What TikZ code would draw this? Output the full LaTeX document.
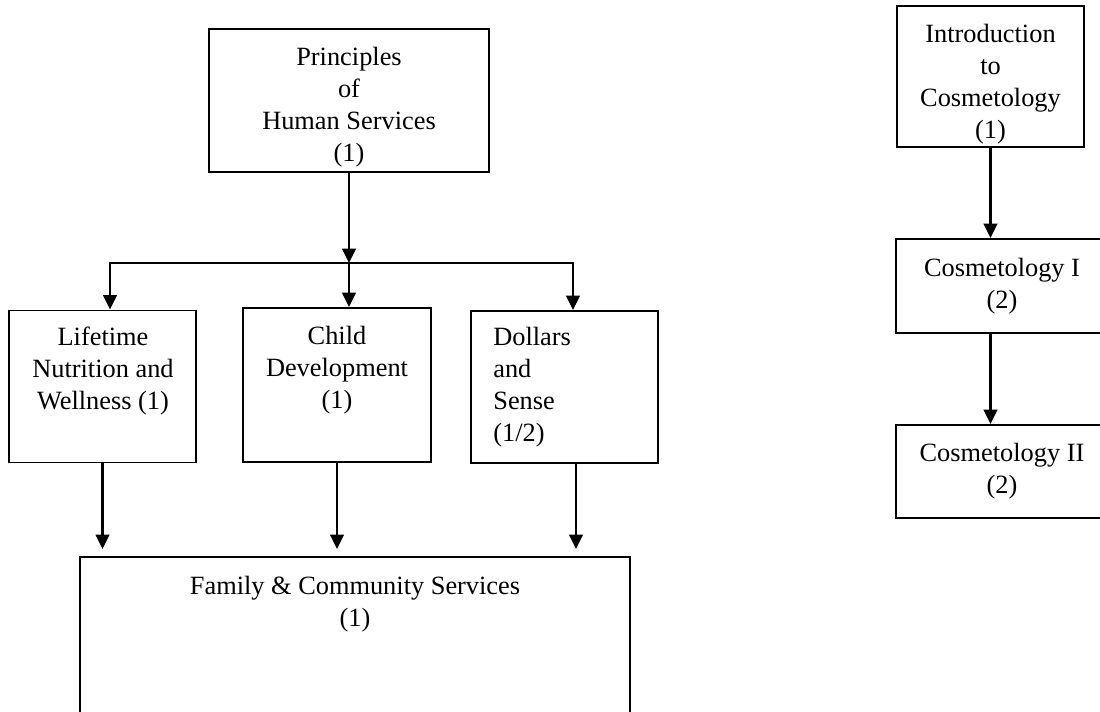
\documentclass[tikz,border=0pt]{standalone}
\usepackage{fontspec}
\setmainfont{Liberation Serif}
\usepackage{tikz}
\usetikzlibrary{shapes,arrows.meta,positioning}

\begin{document}
\begin{tikzpicture}[
    box/.style={rectangle, draw, line width=1.1pt, minimum width=3.74cm, minimum height=3.04cm, align=center, font=\fontsize{15}{18.2}\selectfont},
    boxtext/.style={align=center, inner sep=0pt, font=\fontsize{15}{18.2}\selectfont},
    arrow/.style={-{Triangle[length=0.29cm, width=0.27cm]}, line width=1.5pt},
    droparrow/.style={arrow, shorten >=0.14cm}
]
    \useasboundingbox (0,0) rectangle (22,14.22);

    % Left side: Human Services pathway
    \node[box, minimum width=5.6cm, minimum height=2.86cm] (prin) at (6.98,12.21) {};
    \node[boxtext] (printext) at (6.98,12.08) {Principles\\of\\Human Services\\(1)};
    \node[box] (life) at (2.05,6.49) {};
    \node[boxtext] (lifetext) at (2.06,6.80) {Lifetime\\Nutrition and\\Wellness (1)};
    \node[box, minimum width=3.76cm, minimum height=3.08cm] (child) at (6.74,6.52) {};
    \node[boxtext] (childtext) at (6.74,6.81) {Child\\Development\\(1)};
    \node[box] (doll) at (11.29,6.48) {};
    \node[boxtext, align=left, anchor=west] (dolltext) at (9.86,6.47) {Dollars\\and\\Sense\\(1/2)};
    \node[box, minimum width=11cm, minimum height=4.06cm] (fam) at (7.10,1.05) {};
    \node[boxtext] (famtext) at (7.10,2.14) {Family \& Community Services\\(1)};

    \coordinate (split) at (6.98,8.96);
    \coordinate (splitL) at (2.2,8.96);
    \coordinate (splitR) at (11.46,8.96);

    \draw[arrow] (prin) -- (split);
    \draw[arrow] (split) -| (splitL |- life.north);
    \draw[arrow] (split) -- (split |- child.north);
    \draw[arrow] (split) -| (splitR |- doll.north);

    \draw[droparrow] (life.south) -- (life.south |- fam.north);
    \draw[droparrow] (child.south) -- (child.south |- fam.north);
    \draw[droparrow] ([xshift=0.23cm]doll.south) -- ([xshift=0.23cm]doll.south |- fam.north);

    % Right side: Cosmetology pathway
    \node[box, minimum width=3.74cm, minimum height=2.82cm] (intro) at (19.81,12.69) {};
    \node[boxtext] (introtext) at (19.81,12.53) {Introduction\\to\\Cosmetology\\(1)};
    \node[box, minimum width=4.24cm, minimum height=1.88cm] (cos1) at (20.04,8.50) {Cosmetology I\\(2)};
    \node[box, minimum width=4.24cm, minimum height=1.86cm] (cos2) at (20.04,4.79) {Cosmetology II\\(2)};

    \draw[arrow] (intro.south) -- (intro.south |- cos1.north);
    \draw[arrow] (intro.south |- cos1.south) -- (intro.south |- cos2.north);

\end{tikzpicture}
\end{document}
